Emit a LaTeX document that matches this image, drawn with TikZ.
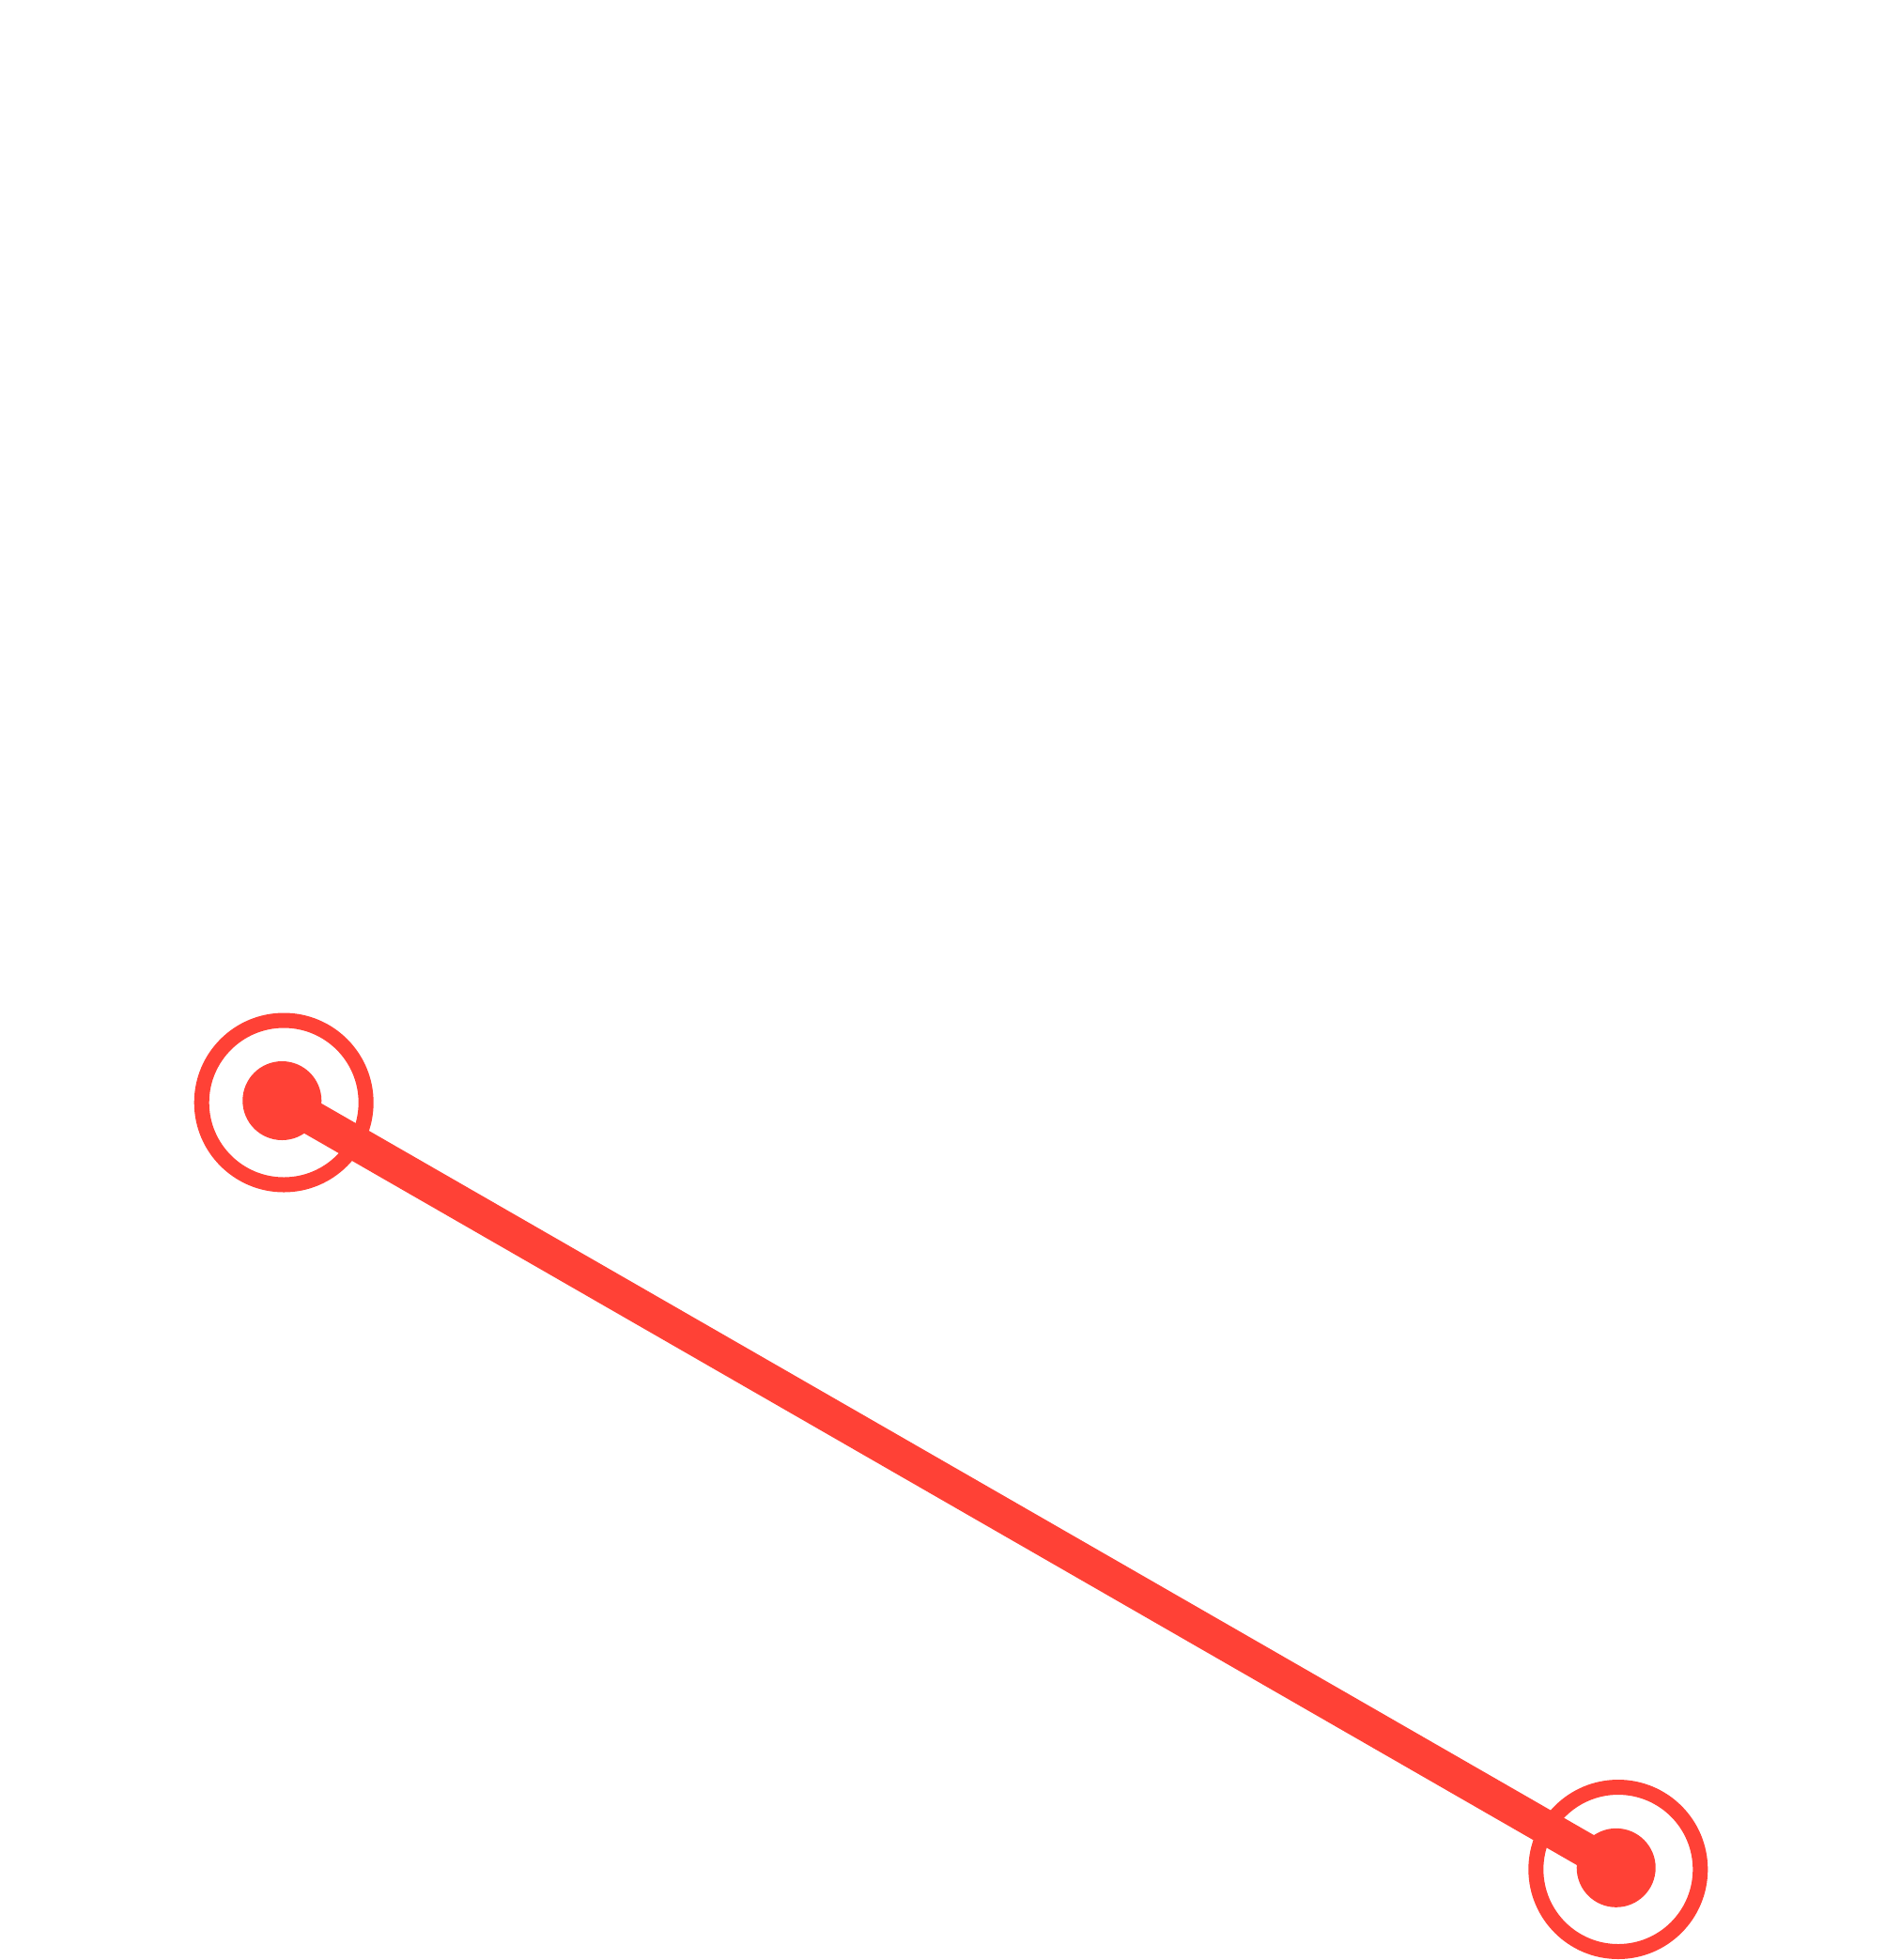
\documentclass[tikz,border=0pt]{standalone}
\usepackage{tikz}
\definecolor{signalred}{RGB}{255,65,54}
\begin{document}
\begin{tikzpicture}[scale=1.0]
    \tikzset{
        ring/.style={circle,draw=signalred,line width=0.16cm,inner sep=0pt,outer sep=0pt,minimum size=1.75cm},
        dot/.style={circle,fill=signalred,inner sep=0pt,outer sep=0pt,minimum size=0.84cm},
        link/.style={signalred,line width=0.367cm}
    }
    \useasboundingbox (0,0) rectangle (20.23,-20.87);

    \node[ring] (r1) at (3.022,-11.74) {};
    \node[ring] (r2) at (17.228,-19.905) {};
    \node[dot] (d1) at (3.003,-11.72) {};
    \node[dot] (d2) at (17.207,-19.888) {};

    \draw[link] (d1.center) -- (d2.center);
\end{tikzpicture}
\end{document}
